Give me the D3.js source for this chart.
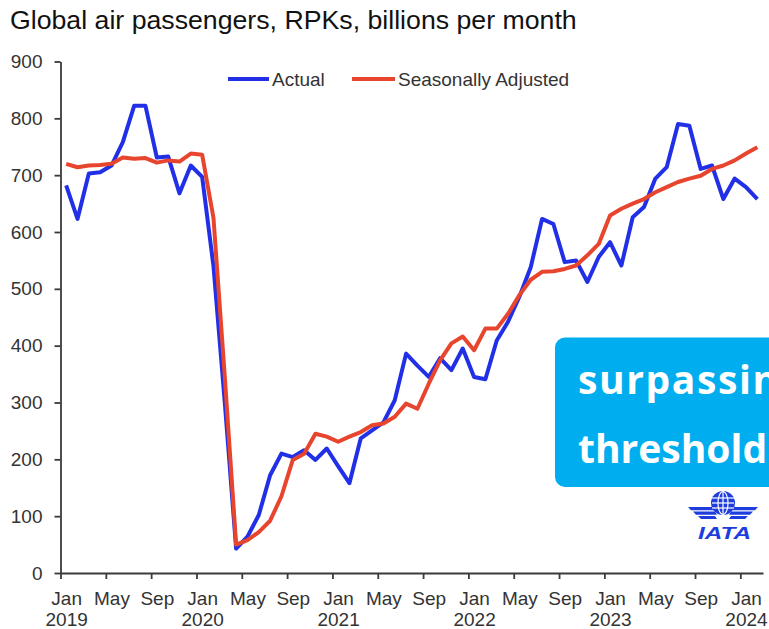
<!DOCTYPE html>
<html>
<head>
<meta charset="utf-8">
<script src="https://cdn.jsdelivr.net/npm/d3@7"></script>
<style>
  body { margin: 0; background: #fff; }
  svg { display: block; font-family: "Liberation Sans", Arial, sans-serif; }
</style>
</head>
<body>
<svg id="chart" width="769" height="629"></svg>
<script>
// months run Jan 2019 .. Feb 2024, one value per month
const monthNames = ["Jan", "May", "Sep"];
const years = [2019, 2020, 2021, 2022, 2023, 2024];
const yTicks = [0, 100, 200, 300, 400, 500, 600, 700, 800, 900];

const actual = [
  682, 623, 703, 705, 717, 758, 822, 822, 731, 733, 668, 717,
  697, 540, 300, 43, 64, 102, 172, 210, 204, 216, 199, 219,
  188, 158, 237, 251, 265, 304, 386, 365, 345, 378, 357, 395,
  345, 341, 409, 442, 486, 538, 623, 614, 547, 550, 512, 556,
  582, 541, 626, 644, 694, 714, 790, 787, 711, 717, 658, 694,
  679, 658
];
const adjusted = [
  720, 714, 717, 718, 720, 731, 729, 730, 722, 726, 724, 738,
  736, 625, 345, 50, 58, 72, 92, 135, 199, 210, 245, 240,
  231, 240, 248, 260, 263, 275, 298, 289, 333, 374, 404, 416,
  392, 430, 430, 456, 489, 516, 530, 531, 535, 541, 559, 579,
  629, 641, 650, 658, 670, 679, 688, 694, 699, 711, 717, 726,
  738, 749
];

const svg = d3.select("#chart");
const axisColor = "#3a3a3a";
const textColor = "#333";
const blue = "#2130e6";
const red = "#e8452f";

// month index scale: 0 = start of Jan 2019
const x = d3.scaleLinear().domain([0, 62]).range([60.5, 763]);
const y = d3.scaleLinear().domain([0, 900]).range([573, 61.5]);
const half = x(0.5) - x(0);

// title
svg.append("text")
  .attr("x", 10).attr("y", 29)
  .attr("font-size", 26.7).attr("fill", "#111")
  .text("Global air passengers, RPKs, billions per month");

// y axis
const yAxis = svg.append("g")
  .attr("transform", `translate(${x(0)},0)`)
  .call(d3.axisLeft(y).tickValues(yTicks).tickSizeInner(6).tickSizeOuter(0).tickPadding(12));
yAxis.selectAll("text").attr("font-size", 19).attr("font-family", "Liberation Sans, Arial, sans-serif").attr("fill", textColor);

// x axis, ticks every 4 months, labels at mid-month
const xAxis = svg.append("g")
  .attr("transform", `translate(0,${y(0)})`)
  .call(d3.axisBottom(x).tickValues(d3.range(0, 61, 4)).tickSizeInner(6).tickSizeOuter(0).tickFormat(""));
xAxis.selectAll(".tick text").remove();
xAxis.selectAll(".tick").each(function (d) {
  const t = d3.select(this).append("text")
    .attr("x", half).attr("text-anchor", "middle")
    .attr("font-size", 19).attr("font-family", "Liberation Sans, Arial, sans-serif")
    .attr("fill", textColor);
  t.append("tspan").attr("x", half).attr("y", 32).text(monthNames[(d % 12) / 4]);
  if (d % 12 === 0) t.append("tspan").attr("x", half).attr("y", 53).text(years[d / 12]);
});
svg.selectAll(".domain, .tick line").attr("stroke", axisColor).attr("stroke-width", 1.8);

// lines
const line = d3.line().x((d, i) => x(i + 0.5)).y(d => y(d));
svg.append("path").datum(actual).attr("d", line)
  .attr("fill", "none").attr("stroke", blue).attr("stroke-width", 4).attr("stroke-linejoin", "round");
svg.append("path").datum(adjusted).attr("d", line)
  .attr("fill", "none").attr("stroke", red).attr("stroke-width", 4).attr("stroke-linejoin", "round");

// legend
const legend = [
  { name: "Actual", color: blue, x0: 228, x1: 269 },
  { name: "Seasonally Adjusted", color: red, x0: 352, x1: 395 }
];
legend.forEach(l => {
  svg.append("line").attr("x1", l.x0).attr("x2", l.x1).attr("y1", 79).attr("y2", 79)
    .attr("stroke", l.color).attr("stroke-width", 4);
  svg.append("text").attr("x", l.x1 + 3).attr("y", 85.5)
    .attr("font-size", 19).attr("fill", textColor).text(l.name);
});

// cut-off callout box on the right
svg.append("rect").attr("x", 555).attr("y", 337.5).attr("width", 240).attr("height", 149.5)
  .attr("rx", 10).attr("fill", "#00aeef");
svg.append("text").attr("x", 578).attr("y", 394)
  .attr("font-family", "Open Sans, sans-serif").attr("font-weight", "bold").attr("font-size", 39)
  .attr("letter-spacing", 1.6)
  .attr("fill", "#fff").text("surpassing");
svg.append("text").attr("x", 578).attr("y", 463)
  .attr("font-family", "Open Sans, sans-serif").attr("font-weight", "bold").attr("font-size", 39)
  .attr("fill", "#fff").text("threshold");

// IATA logo
const logo = svg.append("g").attr("fill", "#1e3ddc");
const gx = 723, gy = 503;
[[507, 688, 3.2], [511.5, 693, 3.2], [516, 698, 3]].forEach(([sy, sx, h]) => {
  logo.append("polygon").attr("points", `${sx},${sy} ${gx - 8},${sy} ${gx - 6},${sy + h} ${sx + 3},${sy + h}`);
  logo.append("polygon").attr("points", `${2 * gx - sx},${sy} ${gx + 8},${sy} ${gx + 6},${sy + h} ${2 * gx - sx - 3},${sy + h}`);
});
logo.append("circle").attr("cx", gx).attr("cy", gy).attr("r", 12);
const grid = svg.append("g").attr("fill", "none").attr("stroke", "#fff").attr("stroke-width", 1.2);
grid.append("ellipse").attr("cx", gx).attr("cy", gy).attr("rx", 5).attr("ry", 11.5);
grid.append("line").attr("x1", gx).attr("x2", gx).attr("y1", gy - 11.5).attr("y2", gy + 11.5);
[-5, 0, 5].forEach(dy => grid.append("line").attr("x1", gx - 11).attr("x2", gx + 11).attr("y1", gy + dy).attr("y2", gy + dy));
svg.append("text").attr("x", 698).attr("y", 539)
  .attr("font-weight", "bold").attr("font-style", "italic").attr("font-size", 17)
  .attr("textLength", 53).attr("lengthAdjust", "spacingAndGlyphs")
  .attr("fill", "#1e3ddc").text("IATA");
</script>
</body>
</html>
